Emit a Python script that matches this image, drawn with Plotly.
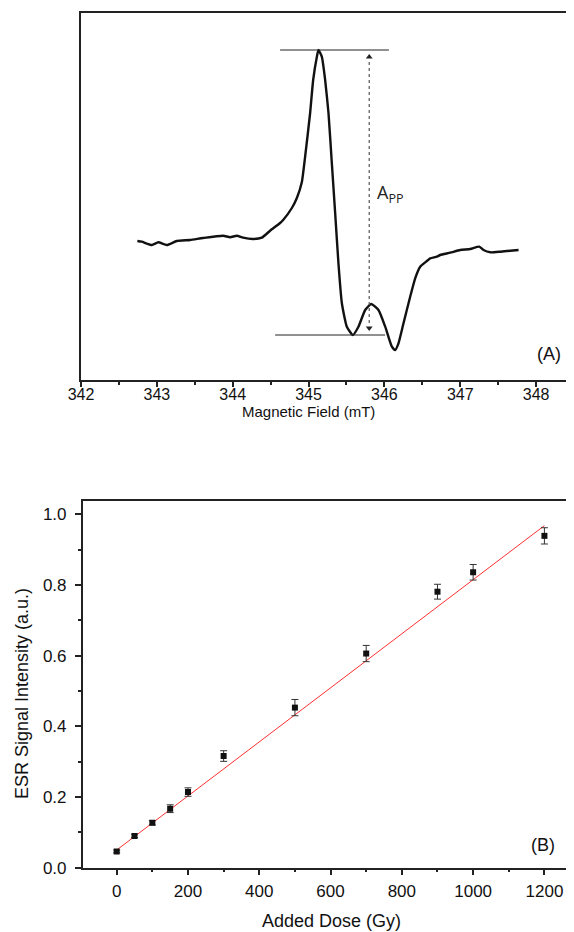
import plotly.graph_objects as go

# ---------------- Panel A: ESR spectrum ----------------
field_mT = [342.743, 342.801, 342.933, 343.020, 343.131, 343.263, 343.438, 343.609,
            343.873, 343.966, 344.054, 344.137, 344.269, 344.384, 344.493, 344.625,
            344.665, 344.780, 344.846, 344.912, 344.955, 345.021, 345.061, 345.110,
            345.131, 345.175, 345.219, 345.263, 345.307, 345.351, 345.394, 345.439,
            345.505, 345.584, 345.658, 345.747, 345.826, 345.922, 346.011, 346.099,
            346.142, 346.186, 346.252, 346.340, 346.406, 346.472, 346.561, 346.604,
            346.693, 346.736, 346.868, 347.000, 347.132, 347.251, 347.307, 347.396,
            347.528, 347.660, 347.769]
esr_amplitude = [0.09, 0.083, 0.05, 0.077, 0.05, 0.09, 0.10, 0.12,
                 0.143, 0.127, 0.143, 0.123, 0.11, 0.123, 0.193, 0.27,
                 0.30, 0.42, 0.52, 0.68, 0.933, 1.37, 1.70, 1.933,
                 2.00, 1.933, 1.70, 1.37, 0.87, 0.37, -0.13, -0.53,
                 -0.767, -0.85, -0.767, -0.60, -0.54, -0.60, -0.767, -0.967,
                 -1.00, -0.933, -0.733, -0.467, -0.283, -0.167, -0.11, -0.083,
                 -0.067, -0.05, -0.027, 0.0, 0.01, 0.033, 0.0, -0.023,
                 -0.017, -0.007, 0.0]
field_ticks = [342, 343, 344, 345, 346, 347, 348]

# ---------------- Panel B: dose response ----------------
added_dose_gy = [0, 50, 100, 150, 200, 300, 500, 700, 900, 1000, 1200]
signal_intensity = [0.046, 0.090, 0.127, 0.167, 0.214, 0.316, 0.453, 0.606, 0.781, 0.836, 0.939]
signal_error = [0.004, 0.005, 0.006, 0.011, 0.012, 0.015, 0.023, 0.023, 0.021, 0.022, 0.023]
fit_intercept = 0.050
fit_slope = 0.000765
fit_dose = [0, 1200]
fit_signal = [fit_intercept + fit_slope * d for d in fit_dose]

FONT = "Liberation Sans, Arial, sans-serif"
W, H = 574, 932
OFF = 8  # page body margin: figure is drawn 8 px right / down in the page


def px(x):
    return (x - OFF) / W


def py(y):
    return 1 - (y - OFF) / H


fig = go.Figure()

fig.add_trace(go.Scatter(
    x=field_mT, y=esr_amplitude, mode="lines",
    line=dict(color="#111111", width=2.4, shape="spline", smoothing=0.5),
    xaxis="x", yaxis="y", showlegend=False, hoverinfo="skip"))

# peak-to-peak guides derived from the spectrum
app_top = max(esr_amplitude)
app_bottom = min(a for f, a in zip(field_mT, esr_amplitude) if f < 345.8)
top_guide = [344.625, 346.06]
bottom_guide = [344.56, 346.01]
arrow_field = 345.80

fig.add_trace(go.Scatter(
    x=[arrow_field, arrow_field], y=[app_top - 0.07, app_bottom + 0.07], mode="markers",
    marker=dict(symbol=["triangle-up", "triangle-down"], size=6, color="#222222"),
    xaxis="x", yaxis="y", showlegend=False, hoverinfo="skip"))

fig.add_trace(go.Scatter(
    x=fit_dose, y=fit_signal, mode="lines",
    line=dict(color="#ff3030", width=1),
    xaxis="x2", yaxis="y2", showlegend=False))

fig.add_trace(go.Scatter(
    x=added_dose_gy, y=signal_intensity, mode="markers",
    marker=dict(symbol="square", size=6, color="#111111"),
    error_y=dict(type="data", array=signal_error, visible=True,
                 color="#333333", thickness=1, width=3.5),
    xaxis="x2", yaxis="y2", showlegend=False))

shapes = [
    dict(type="line", xref="x", yref="y", x0=top_guide[0], x1=top_guide[1],
         y0=app_top, y1=app_top, line=dict(color="#222222", width=1)),
    dict(type="line", xref="x", yref="y", x0=bottom_guide[0], x1=bottom_guide[1],
         y0=app_bottom, y1=app_bottom, line=dict(color="#222222", width=1)),
    dict(type="line", xref="x", yref="y", x0=arrow_field, x1=arrow_field,
         y0=app_bottom + 0.12, y1=app_top - 0.12,
         line=dict(color="#555555", width=1.2, dash="dot")),
]

annotations = [
    dict(xref="x", yref="y", x=345.87, y=0.57, xanchor="left", yanchor="middle",
         text="A<sub>PP</sub>", showarrow=False,
         font=dict(family="Open Sans, sans-serif", size=18, color="#222222")),
    dict(xref="paper", yref="paper", x=px(549), y=py(354), xanchor="center", yanchor="middle",
         text="(A)", showarrow=False, font=dict(family=FONT, size=18, color="#111111")),
    dict(xref="paper", yref="paper", x=px(543), y=py(845), xanchor="center", yanchor="middle",
         text="(B)", showarrow=False, font=dict(family=FONT, size=18, color="#111111")),
    dict(xref="paper", yref="paper", x=px(308), y=py(411), xanchor="center", yanchor="middle",
         text="Magnetic Field (mT)", showarrow=False, font=dict(family=FONT, size=15, color="#111111")),
    dict(xref="paper", yref="paper", x=px(331), y=py(921), xanchor="center", yanchor="middle",
         text="Added Dose (Gy)", showarrow=False, font=dict(family=FONT, size=18, color="#111111")),
    dict(xref="paper", yref="paper", x=px(22), y=py(694), xanchor="center", yanchor="middle",
         text="ESR Signal Intensity (a.u.)", textangle=-90, showarrow=False,
         font=dict(family=FONT, size=18, color="#111111")),
]

axis_common = dict(showgrid=False, zeroline=False, showline=True, linecolor="#222222",
                   linewidth=1.5, mirror=True, automargin=False)

fig.update_layout(
    template="none",
    width=W, height=H, autosize=False,
    margin=dict(l=0, r=0, t=0, b=0, pad=0),
    paper_bgcolor="white", plot_bgcolor="white",
    font=dict(family=FONT, color="#111111"),
    xaxis=dict(domain=[px(81), px(574)], range=[342, 348.5], anchor="y",
               tickmode="array", tickvals=field_ticks,
               ticks="outside", ticklen=5, tickwidth=1.5, tickcolor="#222222",
               minor=dict(dtick=0.5, tick0=342, ticks="outside", ticklen=3, tickwidth=1.5,
                          tickcolor="#222222"),
               tickfont=dict(size=16), ticklabelstandoff=-6, **axis_common),
    yaxis=dict(domain=[py(380), py(13)], range=[-1.30, 2.37], anchor="x",
               showticklabels=False, ticks="", **axis_common),
    xaxis2=dict(domain=[px(82.7), px(574)], range=[-95.4, 1283], anchor="y2",
                tick0=0, dtick=200,
                ticks="outside", ticklen=6, tickwidth=1.5, tickcolor="#222222",
                minor=dict(dtick=100, tick0=0, ticks="outside", ticklen=3, tickwidth=1.5,
                           tickcolor="#222222"),
                tickfont=dict(size=17), ticklabelstandoff=1, **axis_common),
    yaxis2=dict(domain=[py(867.7), py(500.7)], range=[0, 1.0385], anchor="x2",
                tick0=0, dtick=0.2, tickformat=".1f",
                ticks="outside", ticklen=6, tickwidth=1.5, tickcolor="#222222",
                minor=dict(dtick=0.1, tick0=0, ticks="outside", ticklen=3, tickwidth=1.5,
                           tickcolor="#222222"),
                tickfont=dict(size=17), ticklabelstandoff=5, **axis_common),
    shapes=shapes,
    annotations=annotations,
)

fig.write_html("out.html")
